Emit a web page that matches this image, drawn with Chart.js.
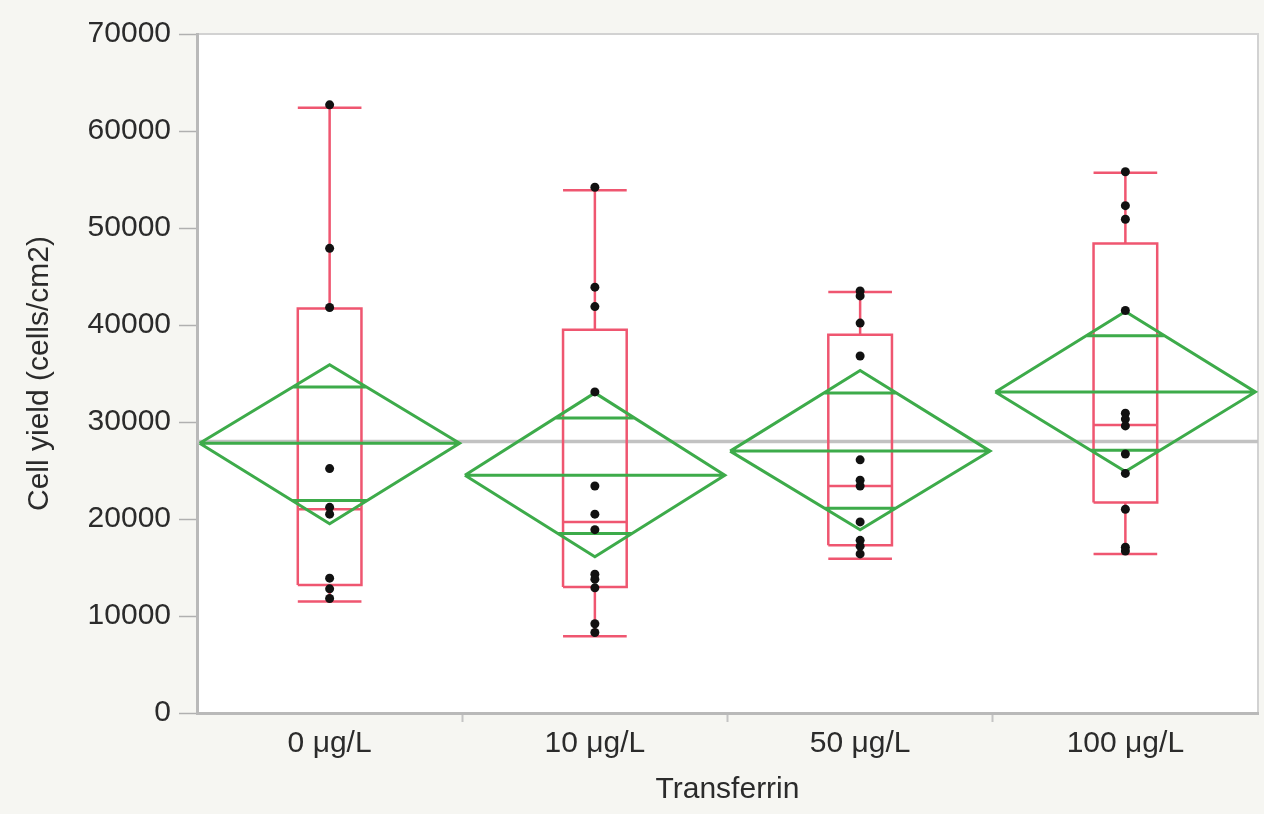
<!DOCTYPE html>
<html>
<head>
<meta charset="utf-8">
<script src="https://cdn.jsdelivr.net/npm/chart.js@4/dist/chart.umd.min.js"></script>
<style>
  html, body { margin: 0; padding: 0; background: #f6f6f2; }
  #chart { display: block; }
</style>
</head>
<body>
<canvas id="chart" width="1264" height="814"></canvas>
<script>
const categories = ["0 \u03bcg/L", "10 \u03bcg/L", "50 \u03bcg/L", "100 \u03bcg/L"];

// raw observations per group
const group0 = [62700, 47900, 41800, 25200, 21200, 20500, 13900, 12800, 11800];
const group10 = [54200, 43900, 41900, 33100, 23400, 20500, 18900, 14300, 13800, 12900, 9200, 8300];
const group50 = [43500, 43000, 40200, 36800, 26100, 24000, 23400, 19700, 17800, 17200, 16400];
const group100 = [55800, 52300, 50900, 41500, 30900, 30300, 29600, 26700, 24700, 21000, 17100, 16700];
const groups = [group0, group10, group50, group100];

// box plot (outlier box)
const q1 = [13200, 13000, 17300, 21700];
const median = [21000, 19700, 23400, 29700];
const q3 = [41700, 39500, 39000, 48400];
const whiskerLow = [11500, 7900, 15900, 16400];
const whiskerHigh = [62400, 53900, 43400, 55700];

// means diamonds
const means = [27800, 24500, 27000, 33100];
const ciUpper = [35900, 33000, 35300, 41400];
const ciLower = [19500, 16100, 18900, 24900];
const overlapHigh = [33600, 30400, 33000, 38900];
const overlapLow = [21900, 18500, 21100, 27100];
const grandMean = 28000;

const yTicks = [0, 10000, 20000, 30000, 40000, 50000, 60000, 70000];

const boxHalf = 0.12;
const capHalf = 0.12;
const diamondHalf = 0.49;

const RED = "#ef5670";
const GREEN = "#3dab4a";
const TEXT = "#2b2b2b";
const FONT = "'Liberation Sans', Arial, sans-serif";

function gap(i) {
  return { x: i, y: null };
}

function boxPath(i) {
  return [
    { x: i - boxHalf, y: q1[i] }, { x: i + boxHalf, y: q1[i] },
    { x: i + boxHalf, y: q3[i] }, { x: i - boxHalf, y: q3[i] },
    { x: i - boxHalf, y: q1[i] }, gap(i),
    { x: i - boxHalf, y: median[i] }, { x: i + boxHalf, y: median[i] }, gap(i),
    { x: i, y: q3[i] }, { x: i, y: whiskerHigh[i] }, gap(i),
    { x: i - capHalf, y: whiskerHigh[i] }, { x: i + capHalf, y: whiskerHigh[i] }, gap(i),
    { x: i, y: q1[i] }, { x: i, y: whiskerLow[i] }, gap(i),
    { x: i - capHalf, y: whiskerLow[i] }, { x: i + capHalf, y: whiskerLow[i] }, gap(i),
  ];
}

function diamondPath(i) {
  const upHalf = (diamondHalf * (ciUpper[i] - overlapHigh[i])) / (ciUpper[i] - means[i]);
  const lowHalf = (diamondHalf * (overlapLow[i] - ciLower[i])) / (means[i] - ciLower[i]);
  return [
    { x: i - diamondHalf, y: means[i] }, { x: i, y: ciUpper[i] },
    { x: i + diamondHalf, y: means[i] }, { x: i, y: ciLower[i] },
    { x: i - diamondHalf, y: means[i] }, gap(i),
    { x: i - diamondHalf, y: means[i] }, { x: i + diamondHalf, y: means[i] }, gap(i),
    { x: i - upHalf, y: overlapHigh[i] }, { x: i + upHalf, y: overlapHigh[i] }, gap(i),
    { x: i - lowHalf, y: overlapLow[i] }, { x: i + lowHalf, y: overlapLow[i] }, gap(i),
  ];
}

const pointData = groups.flatMap((values, i) => values.map((v) => ({ x: i, y: v })));

const plotBackground = {
  id: "plotBackground",
  beforeDraw(chart) {
    const { ctx, chartArea: area } = chart;
    ctx.save();
    ctx.fillStyle = "#ffffff";
    ctx.fillRect(area.left, area.top, area.width, area.height);
    ctx.strokeStyle = "#d2d2d2";
    ctx.lineWidth = 2;
    ctx.strokeRect(area.left, area.top, area.width, area.height);
    ctx.restore();
  },
};

const lineStyle = { showLine: true, pointRadius: 0, tension: 0, spanGaps: false, fill: false };

new Chart(document.querySelector("#chart"), {
  type: "scatter",
  data: {
    datasets: [
      {
        label: "Cell yield",
        data: pointData,
        pointRadius: 4.5,
        pointBackgroundColor: "#111111",
        pointBorderWidth: 0,
        order: 0,
      },
      {
        label: "Means diamonds",
        data: categories.flatMap((_, i) => diamondPath(i)),
        borderColor: GREEN,
        borderWidth: 3,
        order: 1,
        ...lineStyle,
      },
      {
        label: "Box plots",
        data: categories.flatMap((_, i) => boxPath(i)),
        borderColor: RED,
        borderWidth: 2.5,
        order: 2,
        ...lineStyle,
      },
      {
        label: "Grand mean",
        data: [{ x: -0.5, y: grandMean }, { x: 3.5, y: grandMean }],
        borderColor: "#c2c2c2",
        borderWidth: 3.5,
        order: 3,
        ...lineStyle,
      },
    ],
  },
  options: {
    responsive: false,
    animation: false,
    events: [],
    layout: { padding: { left: 0, right: 6, top: 34, bottom: 0 } },
    plugins: {
      legend: { display: false },
      tooltip: { enabled: false },
    },
    scales: {
      x: {
        type: "linear",
        min: -0.5,
        max: 3.5,
        afterBuildTicks(scale) {
          scale.ticks = [-0.5, 0, 0.5, 1, 1.5, 2, 2.5, 3, 3.5].map((value) => ({ value }));
        },
        afterFit(scale) {
          scale.height = 101;
        },
        border: { display: true, color: "#b9b9b9", width: 3 },
        grid: {
          drawOnChartArea: false,
          tickLength: 9,
          tickWidth: 2,
          tickColor: (ctx) => {
            const v = ctx.tick ? ctx.tick.value : 0;
            return v > 0 && v < 3 && !Number.isInteger(v) ? "#c4c4c4" : "rgba(0,0,0,0)";
          },
        },
        ticks: {
          autoSkip: false,
          maxRotation: 0,
          padding: 4,
          color: TEXT,
          font: { family: FONT, size: 30 },
          callback: (value) => (Number.isInteger(value) ? categories[value] : ""),
        },
        title: {
          display: true,
          text: "Transferrin",
          color: TEXT,
          font: { family: FONT, size: 30 },
          padding: { top: 0, bottom: 6 },
        },
      },
      y: {
        type: "linear",
        min: 0,
        max: 70000,
        afterBuildTicks(scale) {
          scale.ticks = yTicks.map((value) => ({ value }));
        },
        afterFit(scale) {
          scale.width = 197;
        },
        border: { display: true, color: "#b9b9b9", width: 3 },
        grid: {
          drawOnChartArea: false,
          tickLength: 18,
          tickWidth: 1.5,
          tickColor: "#b0b0b0",
        },
        ticks: {
          padding: 8,
          color: TEXT,
          font: { family: FONT, size: 30 },
          callback: (value) => String(value),
        },
        title: {
          display: true,
          text: "Cell yield (cells/cm2)",
          color: TEXT,
          font: { family: FONT, size: 30 },
          padding: { top: 22, bottom: 0 },
        },
      },
    },
  },
  plugins: [plotBackground],
});
</script>
</body>
</html>
